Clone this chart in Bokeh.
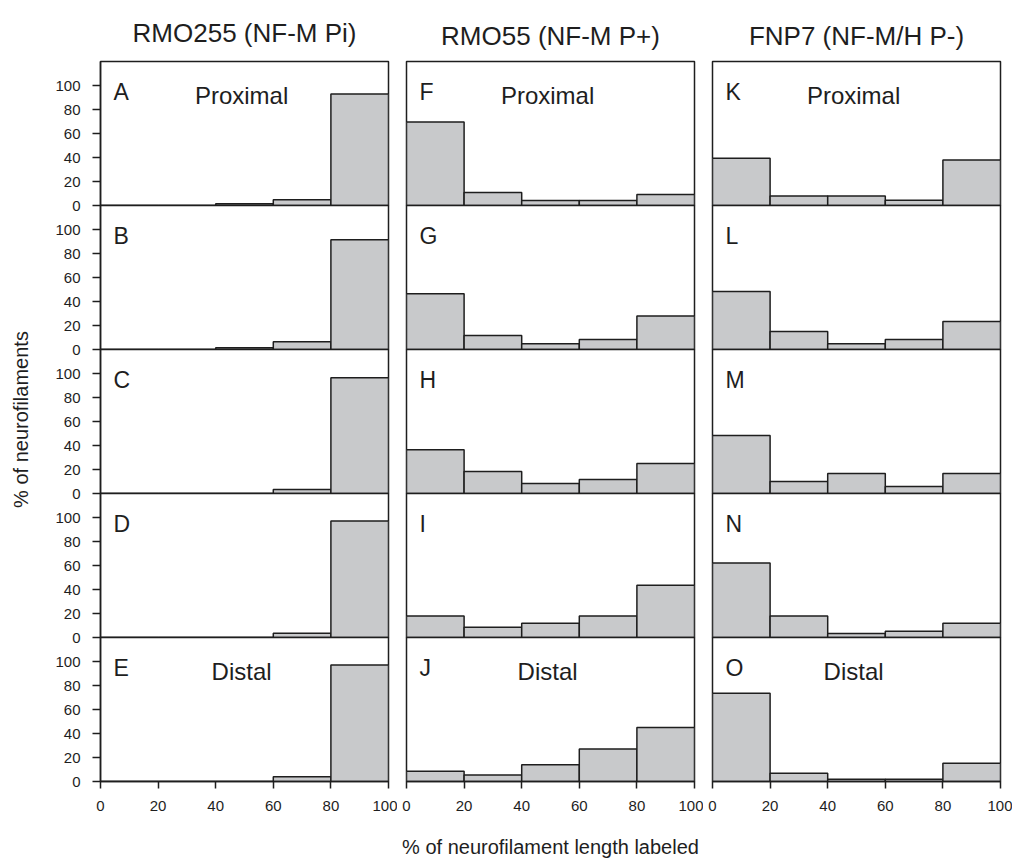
import math
from bokeh.plotting import figure
from bokeh.layouts import column, row
from bokeh.models import Range1d, FixedTicker, ColumnDataSource
from bokeh.core.properties import value
from bokeh.embed import file_html
from bokeh.resources import INLINE

# ---- data ----
bins = [0, 20, 40, 60, 80, 100]
x_ticks = [0, 20, 40, 60, 80, 100]
y_ticks = [0, 20, 40, 60, 80, 100]
col_titles = ["RMO255 (NF-M Pi)", "RMO55 (NF-M P+)", "FNP7 (NF-M/H P-)"]
row_tags = ["Proximal", "", "", "", "Distal"]
letters = [["A", "B", "C", "D", "E"],
           ["F", "G", "H", "I", "J"],
           ["K", "L", "M", "N", "O"]]
y_label = "% of neurofilaments"
x_label = "% of neurofilament length labeled"

A = [0, 0, 1.4, 4.7, 93]
B = [0, 0, 1.5, 6.4, 91.5]
C = [0, 0, 0, 3.3, 96.5]
D = [0, 0, 0, 3.6, 97]
E = [0, 0, 0, 3.9, 97]

F = [69.5, 10.8, 4.2, 4.2, 9.2]
G = [46.4, 11.7, 4.7, 8.3, 28]
H = [36.4, 18.3, 8.3, 11.7, 25]
I = [18, 8.5, 11.9, 18, 43.5]
J = [8.6, 5.5, 13.9, 27, 45]

K = [39.4, 8, 8, 4.4, 38]
L = [48.3, 15, 4.7, 8.3, 23.3]
M = [48.3, 10, 16.7, 5.8, 16.7]
N = [62, 18, 3.3, 5.3, 11.9]
O = [73.6, 6.9, 1.9, 1.9, 15.3]

columns_data = [[A, B, C, D, E], [F, G, H, I, J], [K, L, M, N, O]]

FONT = "Liberation Sans"
INK = "#1e1e1e"
BAR = "#c8c9cb"

LABEL_W = 30
FRAME_W = 288
FRAME_H = 144
widths = [70 + FRAME_W + 9, 9 + FRAME_W + 9, 9 + FRAME_W + 12]
border_left = [70, 9, 9]
border_right = [9, 9, 12]
title_standoff = [28, 22, 22]
TOP0 = 61
PAD = 8
BOTTOM = 80
TOTAL_H = TOP0 + 5 * FRAME_H + BOTTOM


def make_panel(ci, ri, vals):
    top = TOP0 if ri == 0 else PAD
    bottom = BOTTOM if ri == 4 else PAD
    p = figure(width=widths[ci], height=FRAME_H + top + bottom,
               x_range=Range1d(0, 100), y_range=Range1d(0, 120),
               output_backend="svg", toolbar_location=None,
               x_axis_location="below" if ri == 4 else None,
               y_axis_location="left" if ci == 0 else None,
               min_border_left=border_left[ci], min_border_right=border_right[ci],
               min_border_top=top, min_border_bottom=bottom,
               title=col_titles[ci] if ri == 0 else None)
    p.xgrid.visible = False
    p.ygrid.visible = False
    p.background_fill_color = "white"
    p.border_fill_color = None
    p.outline_line_color = INK
    p.outline_line_width = 1.5
    p.outline_line_alpha = 1.0

    src = ColumnDataSource(dict(left=bins[:-1], right=bins[1:], top=vals))
    p.quad(left="left", right="right", bottom=0, top="top", source=src,
           fill_color=BAR, line_color=INK, line_width=1.5)

    p.text(x=[4.5], y=[94.5], text=[letters[ci][ri]],
           text_font=value(FONT), text_font_size="23px", text_color=INK,
           text_baseline="alphabetic", text_align="left")
    if row_tags[ri]:
        p.text(x=[49.0], y=[92], text=[row_tags[ri]],
               text_font=value(FONT), text_font_size="24px", text_color=INK,
               text_baseline="alphabetic", text_align="center")

    if ri == 0:
        p.title.align = "center"
        p.title.text_font = FONT
        p.title.text_font_size = "26px"
        p.title.text_font_style = "normal"
        p.title.text_color = INK
        p.title.standoff = title_standoff[ci]

    for ax in p.xaxis:
        ax.ticker = FixedTicker(ticks=x_ticks)
        ax.major_tick_out = 7
        ax.major_tick_in = 0
        ax.minor_tick_line_color = None
        ax.axis_line_color = INK
        ax.axis_line_width = 1.5
        ax.major_tick_line_color = INK
        ax.major_tick_line_width = 1.5
        ax.major_label_text_font = FONT
        ax.major_label_text_font_size = "15px"
        ax.major_label_text_color = INK
        ax.major_label_standoff = 12
        if ci == 1:
            ax.axis_label = x_label
            ax.axis_label_text_font = FONT
            ax.axis_label_text_font_size = "20px"
            ax.axis_label_text_font_style = "normal"
            ax.axis_label_text_color = INK
            ax.axis_label_standoff = 22
    for ax in p.yaxis:
        ax.ticker = FixedTicker(ticks=y_ticks)
        ax.major_tick_out = 8
        ax.major_tick_in = 0
        ax.minor_tick_line_color = None
        ax.axis_line_color = INK
        ax.axis_line_width = 1.5
        ax.major_tick_line_color = INK
        ax.major_tick_line_width = 1.5
        ax.major_label_text_font = FONT
        ax.major_label_text_font_size = "15px"
        ax.major_label_text_color = INK
        ax.major_label_standoff = 12
    return p


rows = []
for ri in range(5):
    r = row(*[make_panel(ci, ri, columns_data[ci][ri]) for ci in range(3)])
    if ri > 0:
        r.styles = {"margin-top": f"-{2 * PAD}px"}
    rows.append(r)
grid = column(*rows)

# left strip carrying the shared y-axis label
lab = figure(width=LABEL_W, height=TOTAL_H, x_range=Range1d(0, LABEL_W),
             y_range=Range1d(TOTAL_H, 0), output_backend="svg",
             toolbar_location=None, x_axis_location=None, y_axis_location=None,
             min_border=0)
lab.xgrid.visible = False
lab.ygrid.visible = False
lab.outline_line_color = None
lab.border_fill_color = None
lab.background_fill_color = None
lab.text(x=[20], y=[419], text=[y_label], angle=math.pi / 2,
         text_font=value(FONT), text_font_size="20px", text_color=INK,
         text_align="center", text_baseline="middle")

layout = row(lab, grid)

open("out.html", "w").write(file_html(layout, INLINE))
